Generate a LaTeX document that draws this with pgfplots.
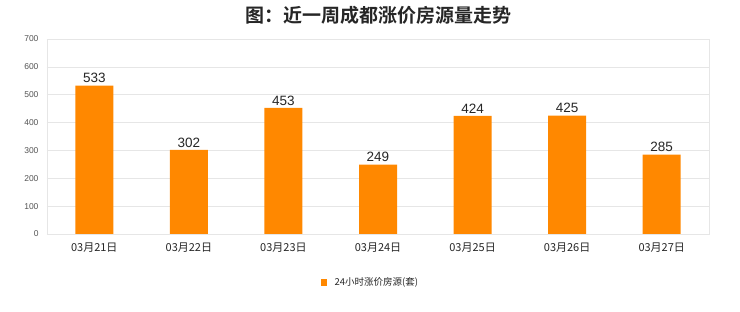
\documentclass[border=0pt]{standalone}
\usepackage{pgfplots}
\pgfplotsset{compat=1.18}
\usepackage{fontspec}
\setmainfont{Liberation Sans}
\newfontfamily\cjk{Noto Sans CJK SC}
\newfontfamily\cjkb{Noto Sans CJK SC Bold}
\definecolor{barorange}{HTML}{FF8800}
\definecolor{gridgray}{HTML}{E6E6E6}
\definecolor{ticktext}{HTML}{555555}

\pgfplotstableread{
idx value
0 533
1 302
2 453
3 249
4 424
5 425
6 285
}\risedata

\begin{document}
\begin{tikzpicture}
\path[fill=white] (0,0) rectangle (740bp,312bp);
\begin{axis}[
  at={(47bp,78bp)}, anchor=south west,
  scale only axis, width=662bp, height=195bp,
  xmin=-0.5, xmax=6.5, ymin=0, ymax=700,
  ytick={0,100,...,700},
  xtick=data,
  xticklabels={03月21日,03月22日,03月23日,03月24日,03月25日,03月26日,03月27日},
  xticklabel style={font=\cjk\fontsize{11bp}{13bp}\selectfont, text=black!85, yshift=-5bp},
  yticklabel style={font=\fontsize{8.5bp}{10bp}\selectfont, text=ticktext, xshift=-5bp},
  /pgf/number format/assume math mode=true,
  axis line style={gridgray, line width=0.8bp},
  ymajorgrids, grid style={gridgray, line width=0.6bp},
  major tick length=0pt,
  tick style={draw=none},
  xtick pos=bottom, ytick pos=left,
  ybar, bar width=38bp,
  nodes near coords,
  every node near coord/.append style={font=\fontsize{13.5bp}{15bp}\selectfont, text=black!85, yshift=-1bp},
]
\addplot[fill=barorange, draw=none] table[x=idx, y=value] {\risedata};
\end{axis}
\node[font=\cjkb\fontsize{19bp}{22bp}\selectfont, text=black!85] at (378bp,297bp) {图：近一周成都涨价房源量走势};
\fill[barorange] (321bp,26bp) rectangle (327bp,33bp);
\node[anchor=west, font=\cjk\fontsize{9.5bp}{11bp}\selectfont, text=black!85] at (331bp,29.5bp) {24小时涨价房源(套)};
\end{tikzpicture}
\end{document}
